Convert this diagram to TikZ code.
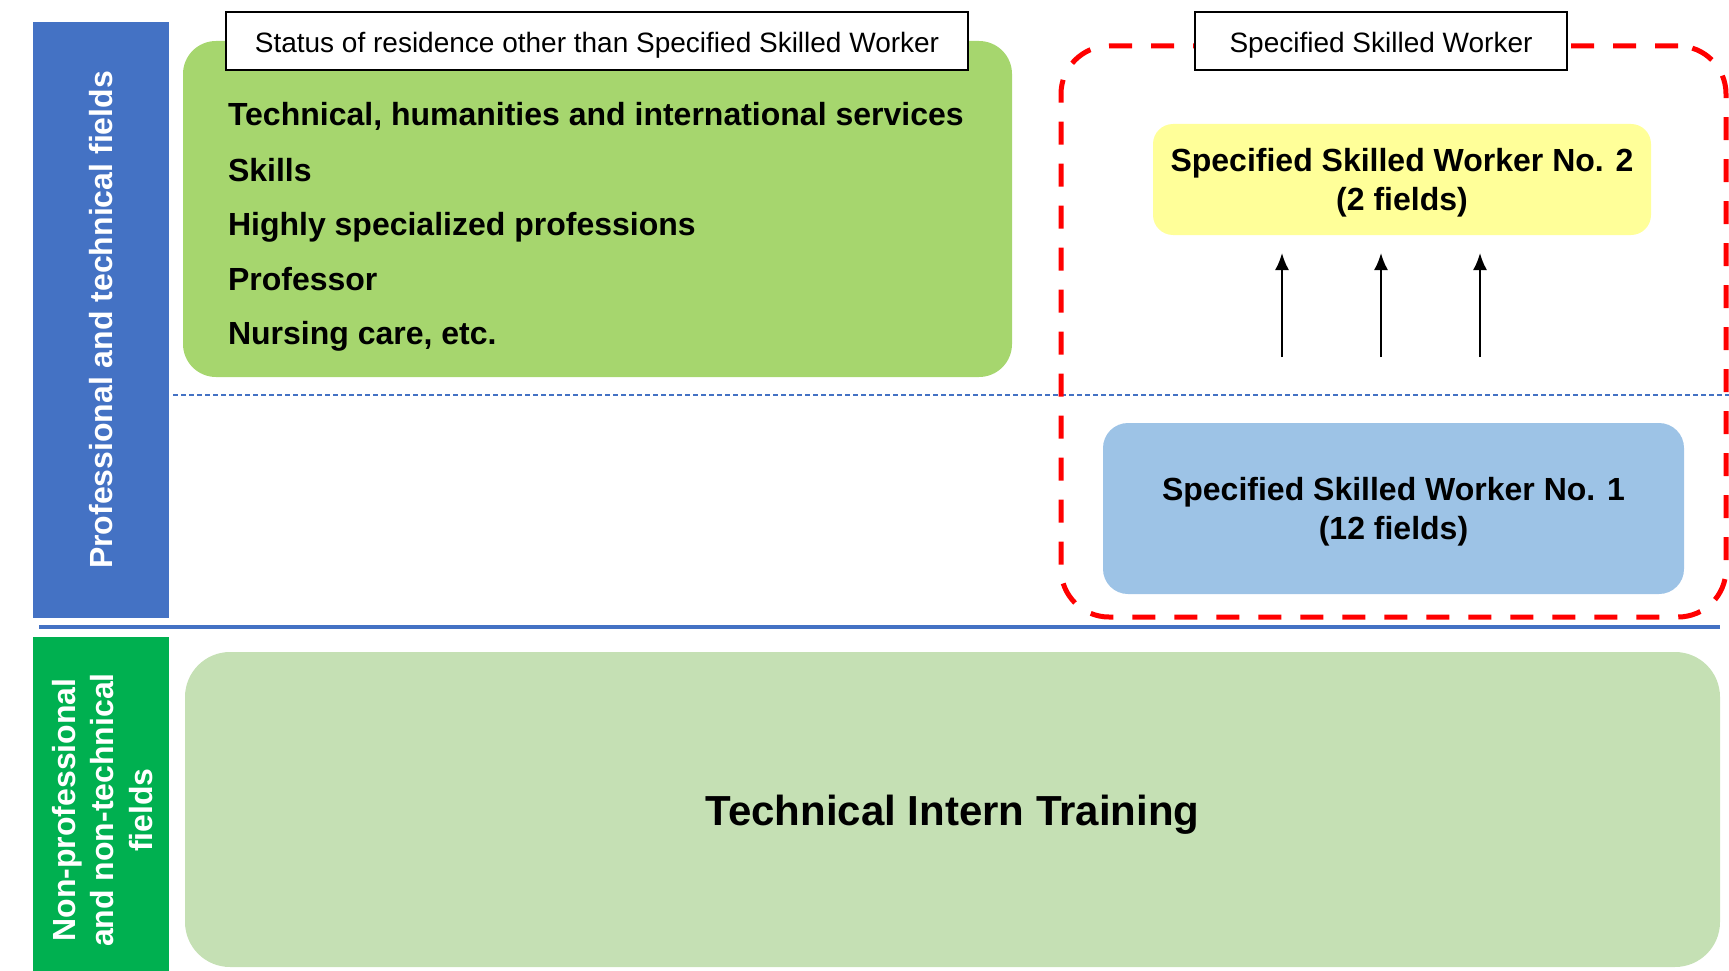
\documentclass[tikz,border=0pt]{standalone}
\usepackage{fontspec}
\setmainfont{Liberation Sans}
\usetikzlibrary{arrows.meta}
\definecolor{fieldblue}{HTML}{4472C4}
\definecolor{fieldgreen}{HTML}{00B050}
\definecolor{otherfill}{HTML}{A6D66E}
\definecolor{internfill}{HTML}{C5E0B4}
\definecolor{onefill}{HTML}{9DC3E6}
\definecolor{twofill}{HTML}{FFFF99}
\definecolor{sswred}{HTML}{FF0000}

\begin{document}
\begin{tikzpicture}[x=1pt, y=-1pt,
    every node/.style={inner sep=0pt, outer sep=0pt},
    bigbold/.style={font=\fontsize{32}{38.5}\selectfont\bfseries, align=center, text depth=0pt},
    tagbox/.style={draw=black, line width=1.5pt, fill=white, minimum height=58pt, text height=24pt, text depth=0pt, font=\fontsize{28}{34}\selectfont},
    listitem/.style={anchor=base west, font=\fontsize{32}{38}\selectfont\bfseries}]
        \useasboundingbox (0,0) rectangle (1729,971);
        \node[fill=fieldblue, minimum width=136pt, minimum height=596pt] (pro) at (101,320) {};
        \node[fill=fieldgreen, minimum width=136pt, minimum height=334pt] (nonpro) at (101,804) {};
        \node[bigbold, white, rotate=90] (protext) at (101,320) {Professional and technical fields};
        \node[bigbold, white, rotate=90] (nonprotext) at (102,810) {Non-professional\\and non-technical\\fields};
        \draw[fieldblue, line width=1.2pt, dash pattern=on 5pt off 3pt] (173,395) -- (1729,395);
        \draw[fieldblue, line width=4pt] (39,627) -- (1720,627);
        \node[fill=otherfill, rounded corners=33pt, minimum width=829pt, minimum height=336pt] (other) at (597.5,209) {};
        \node[listitem] (item1) at (228,126) {Technical, humanities and international services};
        \node[listitem] (item2) at (228,181) {Skills};
        \node[listitem] (item3) at (228,235) {Highly specialized professions};
        \node[listitem] (item4) at (228,290) {Professor};
        \node[listitem] (item5) at (228,344) {Nursing care, etc.};
        \node[draw=sswred, line width=5pt, dash pattern=on 23pt off 19pt, rounded corners=48pt, minimum width=665pt, minimum height=571pt] (ssw) at (1393.5,331.5) {};
        \node[bigbold, fill=twofill, rounded corners=20pt, minimum width=498pt, minimum height=111pt] (ssw2) at (1402,179.5) {Specified Skilled Worker No. 2\\(2 fields)};
        \node[bigbold, fill=onefill, rounded corners=25pt, minimum width=581pt, minimum height=171pt] (ssw1) at (1393.5,508.5) {Specified Skilled Worker No. 1\\(12 fields)};
        \node[fill=internfill, rounded corners=45pt, minimum width=1535pt, minimum height=315pt] (intern) at (952.5,809.5) {};
        \node[font=\fontsize{42}{50}\selectfont\bfseries] (interntext) at (952.5,815) {Technical Intern Training};
        \node[tagbox, minimum width=742pt] (othertag) at (597,41) {Status of residence other than Specified Skilled Worker};
        \node[tagbox, minimum width=372pt] (sswtag) at (1381,41) {Specified Skilled Worker};
        \coordinate (up1) at (1282,357);
        \coordinate (up2) at (1381,357);
        \coordinate (up3) at (1480,357);
        \coordinate (tip1) at (1282,253);
        \coordinate (tip2) at (1381,253);
        \coordinate (tip3) at (1480,253);
        \draw[-{Latex[length=17pt, width=14pt]}, line width=2pt] (up1) -- (tip1);
        \draw[-{Latex[length=17pt, width=14pt]}, line width=2pt] (up2) -- (tip2);
        \draw[-{Latex[length=17pt, width=14pt]}, line width=2pt] (up3) -- (tip3);
    \end{tikzpicture}
\end{document}
